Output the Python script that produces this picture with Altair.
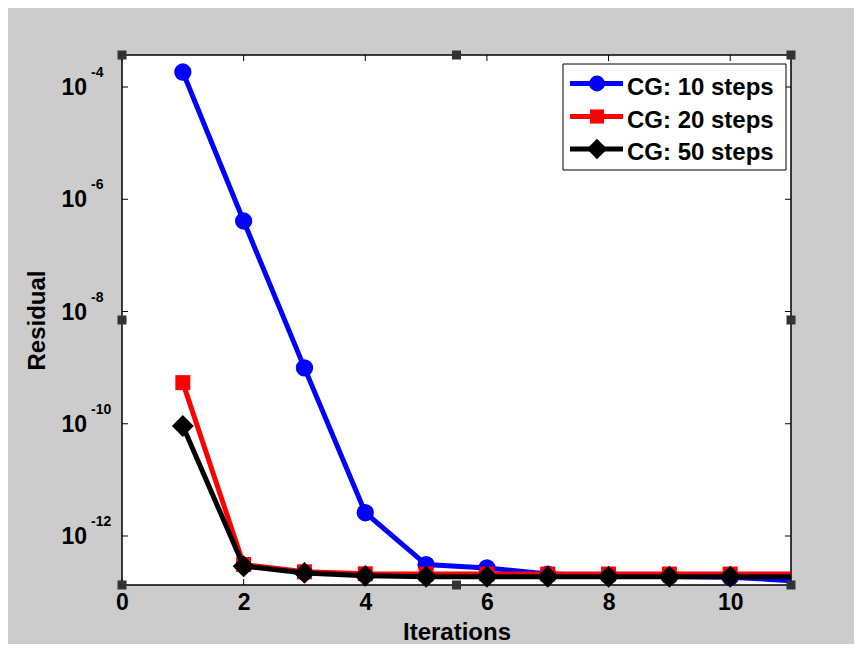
import altair as alt
import pandas as pd

# ---------------- data ----------------
iterations = [1, 2, 3, 4, 5, 6, 7, 8, 9, 10, 11]
cg10 = [1.85e-4, 4.1e-7, 9.9e-10, 2.6e-12, 3.1e-13, 2.7e-13, 2.1e-13, 1.95e-13, 1.9e-13, 1.85e-13, 1.6e-13]
cg20 = [5.4e-10, 3.1e-13, 2.3e-13, 2.12e-13, 2.1e-13, 2.1e-13, 2.1e-13, 2.1e-13, 2.1e-13, 2.1e-13, 2.1e-13]
cg50 = [9.1e-11, 2.9e-13, 2.2e-13, 1.95e-13, 1.88e-13, 1.88e-13, 1.88e-13, 1.88e-13, 1.88e-13, 1.88e-13, 1.88e-13]

series_names = ["CG: 10 steps", "CG: 20 steps", "CG: 50 steps"]
series_values = [cg10, cg20, cg50]
series_colors = ["#0000ff", "#ff0000", "#000000"]
series_shapes = ["circle", "square", "diamond"]
series_sizes = [300, 225, 480]

x_ticks = [0, 2, 4, 6, 8, 10]
y_ticks = [1e-4, 1e-6, 1e-8, 1e-10, 1e-12]
y_exponents = ["-4", "-6", "-8", "-10", "-12"]

FONT = "Liberation Sans"
W, H = 669, 530

xscale = alt.Scale(domain=[0, 11], nice=False, zero=False)
yscale = alt.Scale(type="log", domain=[1.34e-13, 3.72e-4], nice=False)

x_axis = alt.Axis(values=x_ticks, ticks=False, tickSize=0, domain=False, grid=False,
                  labelFont=FONT, labelFontSize=23, labelFontWeight="bold", labelColor="#000",
                  labelPadding=6, labelFlush=False, format="d",
                  title="Iterations", titleFont=FONT, titleFontSize=24, titleFontWeight="bold",
                  titleColor="#000", titleY=54, titleBaseline="alphabetic")
y_axis = alt.Axis(values=y_ticks, labels=False, ticks=False, tickSize=0, domain=False, grid=False,
                  title="Residual", titleFont=FONT, titleFontSize=24, titleFontWeight="bold",
                  titleColor="#000", titleX=-78, titleY=265, titleAngle=270,
                  titleBaseline="alphabetic", titleAlign="center")


def X():
    return alt.X("Iteration:Q", scale=xscale, axis=x_axis)


def Y():
    return alt.Y("Residual:Q", scale=yscale, axis=y_axis)


rows = []
for name, vals in zip(series_names, series_values):
    for it, v in zip(iterations, vals):
        rows.append({"Series": name, "Iteration": it, "Residual": v})
df = pd.DataFrame(rows)

layers = []
for name, color, shape, size in zip(series_names, series_colors, series_shapes, series_sizes):
    sub = df[df["Series"] == name]
    line = alt.Chart(sub).mark_line(color=color, strokeWidth=5).encode(x=X(), y=Y())
    pts = alt.Chart(sub[sub["Iteration"] <= 10]).mark_point(
        shape=shape, filled=True, color=color, size=size, opacity=1
    ).encode(x=X(), y=Y())
    layers += [line, pts]

# inside ticks (MATLAB box style)
xt = pd.DataFrame({"Iteration": x_ticks})
yt = pd.DataFrame({"Residual": y_ticks, "exp": y_exponents})
tick_layers = [
    alt.Chart(xt).mark_rule(color="#000", strokeWidth=1).encode(
        x=X(), y=alt.value(H), y2=alt.value(H - 6)),
    alt.Chart(xt).mark_rule(color="#000", strokeWidth=1).encode(
        x=X(), y=alt.value(0), y2=alt.value(6)),
    alt.Chart(yt).mark_rule(color="#000", strokeWidth=1).encode(
        y=Y(), x=alt.value(0), x2=alt.value(6)),
    alt.Chart(yt).mark_rule(color="#000", strokeWidth=1).encode(
        y=Y(), x=alt.value(W - 6), x2=alt.value(W)),
]

# y tick labels as 10 with superscript exponent
ylab_base = alt.Chart(yt).mark_text(align="right", baseline="alphabetic", dy=8,
                                    font=FONT, fontSize=23, fontWeight="bold", color="#000").encode(
    y=Y(), x=alt.value(-35), text=alt.value("10"))
ylab_exp = alt.Chart(yt).mark_text(align="left", baseline="alphabetic", dy=-10,
                                   font=FONT, fontSize=14, fontWeight="bold", color="#000").encode(
    y=Y(), x=alt.value(-31), text="exp:N")

# legend
one = pd.DataFrame({"k": [0]})
legend_layers = [
    alt.Chart(one).mark_rect(fill="white", stroke="#000", strokeWidth=1).encode(
        x=alt.value(441), x2=alt.value(664), y=alt.value(9), y2=alt.value(115))
]
line_ys = [28.5, 61.5, 94]
text_ys = [40, 72.5, 105]
legend_sizes = [250, 200, 420]
for name, color, shape, size, ly, ty in zip(series_names, series_colors, series_shapes,
                                             legend_sizes, line_ys, text_ys):
    legend_layers += [
        alt.Chart(one).mark_rule(color=color, strokeWidth=5).encode(
            x=alt.value(448), x2=alt.value(501), y=alt.value(ly)),
        alt.Chart(one).mark_point(shape=shape, filled=True, color=color, size=size,
                                  opacity=1).encode(x=alt.value(475), y=alt.value(ly)),
        alt.Chart(one).mark_text(align="left", baseline="alphabetic", font=FONT, fontSize=24,
                                 fontWeight="bold", color="#000").encode(
            x=alt.value(505), y=alt.value(ty), text=alt.value(name)),
    ]

# selection handles drawn by MATLAB edit mode
handle_layers = []
for hx, hy in [(0, 0), (W / 2, 0), (W, 0), (0, H / 2), (W, H / 2), (0, H), (W / 2, H), (W, H)]:
    handle_layers.append(
        alt.Chart(one).mark_point(shape="square", filled=True, color="#333333", size=81,
                                  opacity=1).encode(x=alt.value(hx), y=alt.value(hy)))

chart = alt.layer(*layers, *tick_layers, ylab_base, ylab_exp, *legend_layers, *handle_layers).properties(
    width=W, height=H,
    autosize=alt.AutoSizeParams(type="none"),
    padding={"left": 114, "top": 47, "right": 63, "bottom": 59},
    background="#cccccc",
).configure_view(fill="white", stroke="#000", strokeWidth=1.5)

chart.save("out.html", embed_options={"renderer": "svg", "actions": False})
